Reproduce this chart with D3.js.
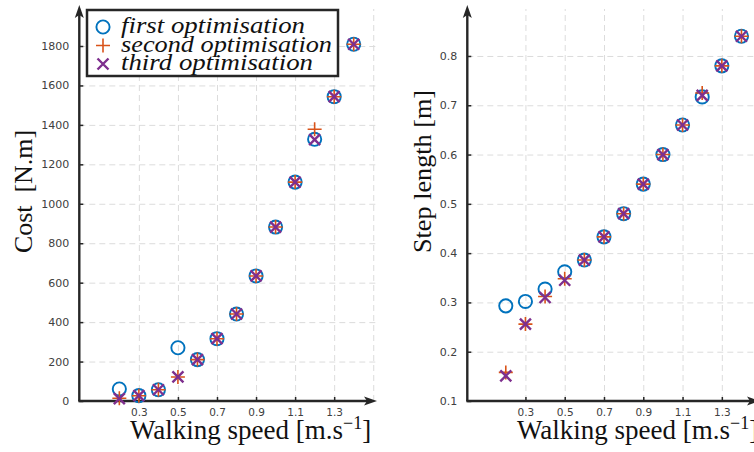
<!DOCTYPE html>
<html><head><meta charset="utf-8">
<script src="https://cdn.jsdelivr.net/npm/d3@7"></script>
<style>
body{margin:0;background:#fff;}
svg{display:block;}
.tick text{font-family:"DejaVu Sans",sans-serif;fill:#404040;}
.serif{font-family:"Liberation Serif","Times New Roman","DejaVu Serif","Noto Serif",serif;}
</style></head>
<body>
<svg id="c" width="754" height="452"></svg>
<script>
const speeds = [0.2,0.3,0.4,0.5,0.6,0.7,0.8,0.9,1.0,1.1,1.2,1.3,1.4];
const costFirst  = [61,27,57,270,210,316,441,634,882,1110,1327,1543,1809];
const costSecond = [14,27,57,122,210,316,441,634,882,1110,1378,1543,1809];
const costThird  = [12,27,57,122,210,316,441,634,882,1110,1325,1543,1809];
const stepFirst  = [0.293,0.302,0.327,0.362,0.386,0.433,0.48,0.54,0.60,0.66,0.717,0.78,0.84];
const stepSecond = [0.158,0.256,0.312,0.348,0.386,0.433,0.48,0.54,0.60,0.66,0.725,0.78,0.84];
const stepThird  = [0.151,0.256,0.310,0.345,0.386,0.433,0.48,0.54,0.60,0.66,0.720,0.78,0.84];
const xTicks = [0.3,0.5,0.7,0.9,1.1,1.3];
const xGrid = [0.3,0.5,0.7,0.9,1.1,1.3,1.5];
const costTicks = [0,200,400,600,800,1000,1200,1400,1600,1800];
const stepTicks = [0.1,0.2,0.3,0.4,0.5,0.6,0.7,0.8];
const legendLabels = ["first optimisation","second optimisation","third optimisation"];

const C1 = "#0072BD", C2 = "#D95319", C3 = "#7E2F8E", AX = "#262626";
const svg = d3.select("#c");

function panel(o){
  const g = svg.append("g");
  const x = d3.scaleLinear().domain([o.xmin, o.xmax]).range([o.left, o.right]);
  const y = d3.scaleLinear().domain(o.ydom).range([o.bottom, o.top]);
  // grid
  g.append("g").attr("transform",`translate(0,${o.bottom})`)
    .call(d3.axisBottom(x).tickValues(xGrid).tickSize(-(o.bottom-o.top-4)).tickFormat(""))
    .call(s=>{s.select(".domain").remove(); s.selectAll("text").remove();
      s.selectAll("line").attr("stroke","#dcdcdc").attr("stroke-dasharray","6,4").attr("stroke-width",1);});
  g.append("g").attr("transform",`translate(${o.left},0)`)
    .call(d3.axisRight(y).tickValues(o.gridY).tickSize(o.gridRight-o.left).tickFormat(""))
    .call(s=>{s.select(".domain").remove(); s.selectAll("text").remove();
      s.selectAll("line").attr("stroke","#dcdcdc").attr("stroke-dasharray","6,4").attr("stroke-width",1);});
  // y ticks
  g.append("g").attr("transform",`translate(${o.left},0)`)
    .call(d3.axisLeft(y).tickValues(o.yticks).tickSize(-4).tickPadding(10).tickFormat(o.yfmt))
    .call(s=>{s.select(".domain").remove(); s.selectAll("line").attr("stroke",AX).attr("stroke-width",1.5);
      s.selectAll("text").style("font-size","11px");});
  // x ticks
  g.append("g").attr("transform",`translate(0,${o.bottom})`)
    .call(d3.axisBottom(x).tickValues(xTicks).tickSize(-4).tickPadding(8).tickFormat(d3.format(".1f")))
    .call(s=>{s.select(".domain").remove(); s.selectAll("line").attr("stroke",AX).attr("stroke-width",1.5);
      s.selectAll("text").style("font-size","10.5px");});
  // axis lines with arrows
  const L = o.left;
  g.append("line").attr("x1",L).attr("y1",o.bottom).attr("x2",L).attr("y2",o.top+8)
    .attr("stroke",AX).attr("stroke-width",2.4);
  g.append("line").attr("x1",L-1).attr("y1",o.bottom).attr("x2",o.right-8).attr("y2",o.bottom)
    .attr("stroke",AX).attr("stroke-width",2.4);
  const t = o.top, r = o.right;
  g.append("path").attr("d",`M${L},${t} L${L+4.5},${t+13} L${L},${t+10} L${L-4.5},${t+13} Z`).attr("fill",AX);
  g.append("path").attr("d",`M${r},${o.bottom} L${r-13},${o.bottom-4.5} L${r-10},${o.bottom} L${r-13},${o.bottom+4.5} Z`).attr("fill",AX);
  // markers
  const pts = (vals)=>speeds.map((s,i)=>[x(s),y(vals[i])]);
  g.selectAll(".c1").data(pts(o.s1)).join("circle").attr("cx",d=>d[0]).attr("cy",d=>d[1]).attr("r",6.6)
    .attr("fill","none").attr("stroke",C1).attr("stroke-width",1.9);
  g.selectAll(".c2").data(pts(o.s2)).join("path")
    .attr("d",d=>`M${d[0]-7},${d[1]}H${d[0]+7}M${d[0]},${d[1]-7}V${d[1]+7}`)
    .attr("stroke",C2).attr("stroke-width",1.6);
  g.selectAll(".c3").data(pts(o.s3)).join("path")
    .attr("d",d=>`M${d[0]-5.5},${d[1]-5.5}L${d[0]+5.5},${d[1]+5.5}M${d[0]-5.5},${d[1]+5.5}L${d[0]+5.5},${d[1]-5.5}`)
    .attr("stroke",C3).attr("stroke-width",2.4);
  // labels
  const xl = g.append("text").attr("class","serif").attr("x",o.xlabX).attr("y",439)
    .style("font-size","27px").attr("fill","#111");
  xl.append("tspan").text("Walking speed [m.s");
  xl.append("tspan").attr("dy",-10).style("font-size","18px").text("\u22121");
  xl.append("tspan").attr("dy",10).text("]");
  g.append("text").attr("class","serif").attr("transform",`translate(${o.ylabX},253) rotate(-90)`)
    .style("font-size","26px").attr("fill","#111")
    .attr("textLength",o.ylabLen).attr("lengthAdjust","spacingAndGlyphs")
    .style("white-space","pre").text(o.ylab);
  return {x,y};
}

panel({left:79.3, right:377, top:5, bottom:401, xmin:-0.005, xmax:-0.005+(377-79.3)/195.3,
  ydom:[0,(401-5)/(355/1800)], gridY:[200,400,600,800,1000,1200,1400,1600,1800], gridRight:377,
  yticks:costTicks, yfmt:d3.format("d"), s1:costFirst, s2:costSecond, s3:costThird,
  xlabX:130, ylabX:32, ylab:"Cost  [N.m]", ylabLen:123});
panel({left:467.3, right:760, top:5, bottom:401, xmin:0.004, xmax:0.004+(760-467.3)/196.4,
  ydom:[0.1,0.1+(401-5)/492.9], gridY:[0.2,0.3,0.4,0.5,0.6,0.7,0.8], gridRight:760,
  yticks:stepTicks, yfmt:d3.format(".1f"), s1:stepFirst, s2:stepSecond, s3:stepThird,
  xlabX:517, ylabX:431, ylab:"Step length [m]", ylabLen:163});

// legend
const lg = svg.append("g");
lg.append("rect").attr("x",87).attr("y",10).attr("width",251).attr("height",66)
  .attr("fill","#fff").attr("stroke",AX).attr("stroke-width",2.5);
const ly = d3.scalePoint().domain(legendLabels).range([27,64]);
const lw = [184,211,192];
legendLabels.forEach((lab,i)=>{
  const cy = ly(lab), cx = 103;
  if(i===0) lg.append("circle").attr("cx",cx).attr("cy",cy).attr("r",6.6).attr("fill","none").attr("stroke",C1).attr("stroke-width",1.9);
  if(i===1) lg.append("path").attr("d",`M${cx-7},${cy}H${cx+7}M${cx},${cy-7}V${cy+7}`).attr("stroke",C2).attr("stroke-width",1.6);
  if(i===2) lg.append("path").attr("d",`M${cx-5.5},${cy-5.5}L${cx+5.5},${cy+5.5}M${cx-5.5},${cy+5.5}L${cx+5.5},${cy-5.5}`).attr("stroke",C3).attr("stroke-width",2.4);
  lg.append("text").attr("class","serif").attr("x",121).attr("y",cy+6)
    .style("font-style","italic").style("font-size","24px")
    .attr("fill","#111").attr("textLength",lw[i]).attr("lengthAdjust","spacingAndGlyphs").text(lab);
});
</script>
</body></html>
